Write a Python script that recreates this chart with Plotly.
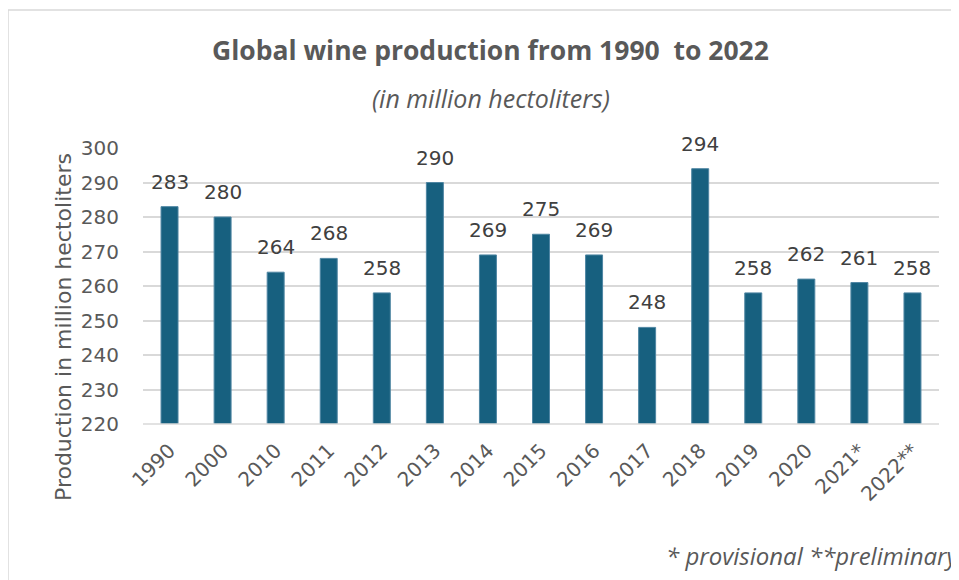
import plotly.graph_objects as go

categories = ["1990", "2000", "2010", "2011", "2012", "2013", "2014", "2015",
              "2016", "2017", "2018", "2019", "2020", "2021*", "2022**"]
production = [283, 280, 264, 268, 258, 290, 269, 275, 269, 248, 294, 258, 262, 261, 258]
y_ticks = [220, 230, 240, 250, 260, 270, 280, 290, 300]

OFF = 8  # page body margin
W, H = 959 - OFF, 580 - OFF
L, R, T, B = 143 - OFF, 939 - OFF, 148 - OFF, 424 - OFF  # plot area in figure pixels


def px(x):
    return (x - OFF - L) / (R - L)


def py(y):
    return (B - (y - OFF)) / (B - T)


NUM_FONT = "DejaVu Sans"
TITLE_FONT = "Open Sans"

fig = go.Figure()
fig.add_trace(go.Bar(
    x=categories,
    y=production,
    marker=dict(color="#17607F", line=dict(color="#4F86A3", width=1)),
    hoverinfo="x+y",
))

value_labels = [
    dict(x=i, y=v, xref="x", yref="y", text=str(v), showarrow=False,
         xanchor="center", yanchor="bottom", yshift=11,
         font=dict(family=NUM_FONT, size=20, color="#404040"))
    for i, v in enumerate(production)
]

fig.update_layout(
    width=W, height=H, autosize=False,
    margin=dict(l=L, r=W - R, t=T, b=H - B, pad=0),
    paper_bgcolor="white", plot_bgcolor="white",
    bargap=0.68,
    showlegend=False,
    xaxis=dict(
        type="category",
        categoryorder="array", categoryarray=categories,
        range=[-0.5, len(categories) - 0.5],
        tickangle=-45,
        tickfont=dict(family=NUM_FONT, size=20, color="#595959"),
        showgrid=False, zeroline=False, showline=False,
        ticks="", ticklabelstandoff=10,
    ),
    yaxis=dict(
        range=[220, 300],
        tickvals=y_ticks,
        tickfont=dict(family=NUM_FONT, size=20, color="#595959"),
        showgrid=True, gridcolor="#D9D9D9", gridwidth=1.5,
        zeroline=False, showline=False, ticks="",
        ticklabelstandoff=23,
    ),
    shapes=[
        dict(type="rect", xref="paper", yref="paper",
             x0=px(8), x1=px(975), y0=py(10), y1=py(600),
             line=dict(color="#D9D9D9", width=1.5), fillcolor="rgba(0,0,0,0)",
             layer="below"),
        dict(type="line", xref="paper", yref="paper",
             x0=0, x1=1, y0=0, y1=0,
             line=dict(color="#D9D9D9", width=1.5)),
    ],
    annotations=value_labels + [
        dict(text="<b>Global wine production from 1990  to 2022</b>",
             xref="paper", yref="paper", x=px(490), y=py(50),
             xanchor="center", yanchor="middle", showarrow=False,
             font=dict(family=TITLE_FONT, size=26.5, color="#595959")),
        dict(text="<i>(in million hectoliters)</i>",
             xref="paper", yref="paper", x=px(491), y=py(98),
             xanchor="center", yanchor="middle", showarrow=False,
             font=dict(family=TITLE_FONT, size=25, color="#595959")),
        dict(text="Production in million hectoliters",
             xref="paper", yref="paper", x=px(63), y=py(327),
             xanchor="center", yanchor="middle", textangle=-90, showarrow=False,
             font=dict(family=NUM_FONT, size=22, color="#595959")),
        dict(text="<i>* provisional **preliminary</i>",
             xref="paper", yref="paper", x=px(664), y=py(555),
             xanchor="left", yanchor="middle", showarrow=False,
             font=dict(family=TITLE_FONT, size=24, color="#595959")),
    ],
)

fig.write_html("out.html")
